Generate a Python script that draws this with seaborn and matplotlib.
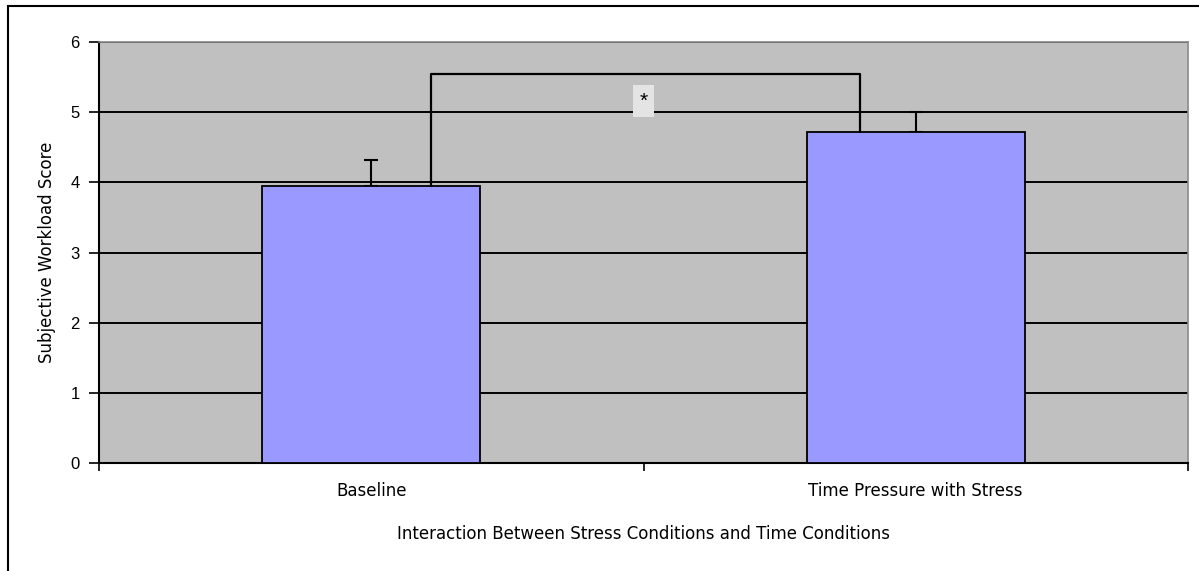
"""
Subjective workload by condition, bar chart with upward error bars and a significance bracket.
"""

import pandas as pd
import matplotlib.pyplot as plt
import seaborn as sns
from matplotlib.patches import Rectangle

conditions = ["Baseline", "Time Pressure with Stress"]
scores = [3.95, 4.72]
errors_up = [0.37, 0.28]
yticks = [0, 1, 2, 3, 4, 5, 6]
bracket_y = 5.54
bracket_x = [0.11, 0.898]
star_label = "*"

sns.set_theme(style="white")
plt.rcParams["font.family"] = ["Liberation Sans", "DejaVu Sans"]
plt.rcParams["text.color"] = "black"
plt.rcParams["axes.labelcolor"] = "black"
plt.rcParams["xtick.color"] = "black"
plt.rcParams["ytick.color"] = "black"
label_font = dict(family="DejaVu Sans", size=12)

df = pd.DataFrame({"condition": conditions, "score": scores})

fig = plt.figure(figsize=(11.99, 5.71), dpi=100)
ax = fig.add_axes([99 / 1199, 1 - 463 / 571, 1089 / 1199, 421 / 571])
ax.set_facecolor("#C0C0C0")

sns.barplot(data=df, x="condition", y="score", ax=ax, color="#9999FF",
            width=0.40, edgecolor="black", linewidth=1.3, saturation=1,
            zorder=3)
for i, (s, e) in enumerate(zip(scores, errors_up)):
    ax.errorbar(i, s, yerr=[[0], [e]], fmt="none", ecolor="black",
                elinewidth=1.5, capsize=5, capthick=1.5, zorder=2)

ax.set_ylim(0, 6)
ax.set_xlim(-0.5, 1.5)
ax.set_yticks(yticks)
ax.yaxis.grid(True, color="black", linewidth=1.4, zorder=1)
ax.set_axisbelow(True)

# significance bracket
ax.plot([bracket_x[0], bracket_x[0], bracket_x[1], bracket_x[1]],
        [scores[0], bracket_y, bracket_y, scores[1]],
        color="black", linewidth=1.6, zorder=4)
ax.text(0.5, 5.16, star_label, ha="center", va="center", fontsize=15,
        zorder=5, bbox=dict(facecolor="#E4E4E4", edgecolor="none",
                            boxstyle="square,pad=0.3"))

# x ticks at the category boundaries, labels at centres
ax.set_xticks([-0.5, 0.5, 1.5])
ax.set_xticklabels([])
ax.set_xticks([0, 1], minor=True)
ax.set_xticklabels(conditions, minor=True, fontdict=label_font)
ax.tick_params(axis="x", which="major", direction="out", length=6,
               width=1.2, color="black", bottom=True)
ax.tick_params(axis="x", which="minor", length=0, pad=14)
ax.tick_params(axis="y", direction="out", length=7, width=1.2,
               color="black", left=True, labelsize=12, pad=7)

for side in ["left", "bottom"]:
    ax.spines[side].set_color("black")
    ax.spines[side].set_linewidth(1.5)
for side in ["top", "right"]:
    ax.spines[side].set_color("#8A8A8A")
    ax.spines[side].set_linewidth(1.2)

ax.set_xlabel("Interaction Between Stress Conditions and Time Conditions",
              fontdict=label_font, labelpad=18)
ax.set_ylabel("Subjective Workload Score", fontdict=label_font, labelpad=10)

# outer frame of the original chart, cut off at the right and bottom
fig.patches.append(Rectangle((8 / 1199, -0.1), 1.2, 1.1 - 6 / 571,
                             transform=fig.transFigure, fill=False,
                             edgecolor="black", linewidth=1.5))

fig.savefig("out.png", dpi=100)
plt.close(fig)
